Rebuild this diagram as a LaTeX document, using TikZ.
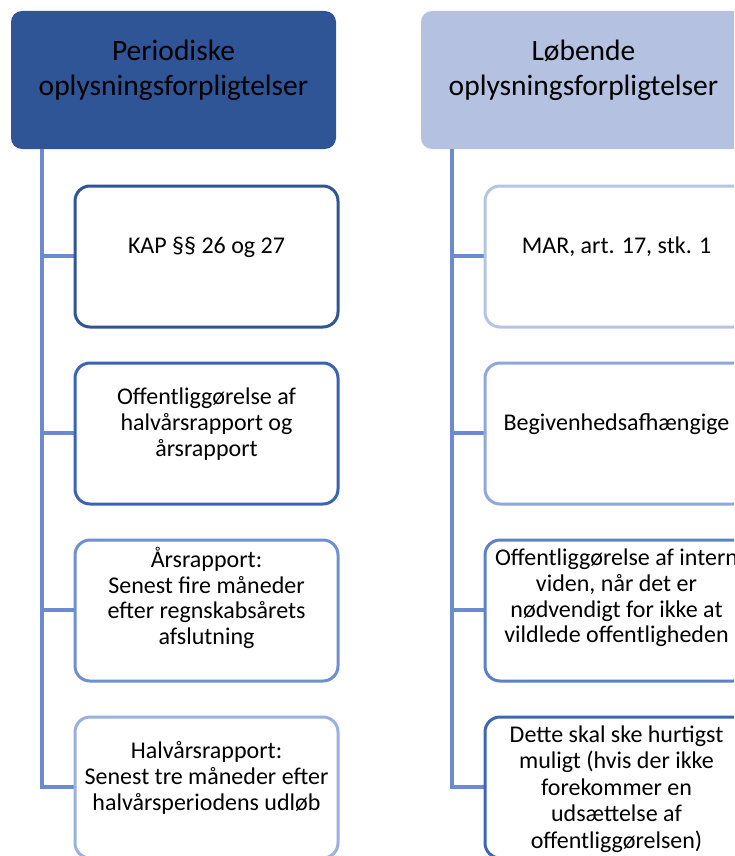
\documentclass[tikz,border=0pt]{standalone}
\usepackage{fontspec}
\setmainfont{Carlito}
\begin{document}
\begin{tikzpicture}[x=1pt,y=-1pt,
  hdr/.style={rounded corners=11pt, draw=none},
  item/.style={rounded corners=15pt, fill=white, line width=3pt},
  conn/.style={draw=lineblue, line width=3.2pt},
  txt/.style={align=center, font=\fontsize{24}{25.8}\selectfont, inner sep=0pt},
  htxt/.style={align=center, font=\fontsize{29.5}{35}\selectfont, inner sep=0pt}
]
\definecolor{darkhdr}{HTML}{2F5597}
\definecolor{lighthdr}{HTML}{B4C1E1}
\definecolor{lineblue}{HTML}{6A8BCF}
\definecolor{bA}{HTML}{2F5597}
\definecolor{bB}{HTML}{3A63B2}
\definecolor{bC}{HTML}{6E8FD0}
\definecolor{bD}{HTML}{9AB0DE}
\definecolor{rA}{HTML}{B5C4E5}
\definecolor{rB}{HTML}{8FA8DC}
\definecolor{rC}{HTML}{5E80CA}
\definecolor{rD}{HTML}{3C65B5}
\useasboundingbox (0,0) rectangle (734,856);
\clip (0,0) rectangle (734,856);

% headers
\path[hdr, fill=darkhdr] (11,11) rectangle (336,149);
\node[htxt] (hl) at (173.5,70) {Periodiske\\oplysningsforpligtelser};
\path[hdr, fill=lighthdr] (421,11) rectangle (746,149);
\node[htxt] (hr) at (583.5,70) {Løbende\\oplysningsforpligtelser};

% connector coordinates
\coordinate (lt) at (42,149);
\coordinate (l1) at (42,256);
\coordinate (l2) at (42,433);
\coordinate (l3) at (42,610);
\coordinate (l4) at (42,787);
\coordinate (rt) at (452,149);
\coordinate (r1) at (452,256);
\coordinate (r2) at (452,433);
\coordinate (r3) at (452,610);
\coordinate (r4) at (452,787);

\draw[conn] (lt) -- (l4) -- (75,787);
\draw[conn] (l1) -- (75,256);
\draw[conn] (l2) -- (75,433);
\draw[conn] (l3) -- (75,610);
\draw[conn] (rt) -- (r4) -- (485,787);
\draw[conn] (r1) -- (485,256);
\draw[conn] (r2) -- (485,433);
\draw[conn] (r3) -- (485,610);

% left boxes
\draw[item, draw=bA] (75,186) rectangle (338,327);
\node[txt] (a1) at (206.5,247) {KAP §§ 26 og 27};
\draw[item, draw=bB] (75,363) rectangle (338,504);
\node[txt] (a2) at (206.5,424) {Offentliggørelse af\\halvårsrapport og\\årsrapport};
\draw[item, draw=bC] (75,540) rectangle (338,681);
\node[txt] (a3) at (206.5,598) {Årsrapport:\\Senest fire måneder\\efter regnskabsårets\\afslutning};
\draw[item, draw=bD] (75,717) rectangle (338,858);
\node[txt] (a4) at (206.5,778) {Halvårsrapport:\\Senest tre måneder efter\\halvårsperiodens udløb};

% right boxes
\draw[item, draw=rA] (485,186) rectangle (748,327);
\node[txt] (b1) at (616.5,247) {MAR, art. 17, stk. 1};
\draw[item, draw=rB] (485,363) rectangle (748,504);
\node[txt] (b2) at (616.5,424) {Begivenhedsafhængige};
\draw[item, draw=rC] (485,540) rectangle (748,681);
\node[txt] (b3) at (616.5,598) {Offentliggørelse af intern\\viden, når det er\\nødvendigt for ikke at\\vildlede offentligheden};
\draw[item, draw=rD] (485,717) rectangle (748,858);
\node[txt, font=\fontsize{24}{26.5}\selectfont] (b4) at (616.5,789) {Dette skal ske hurtigst\\muligt (hvis der ikke\\forekommer en\\udsættelse af\\offentliggørelsen)};
\end{tikzpicture}
\end{document}
